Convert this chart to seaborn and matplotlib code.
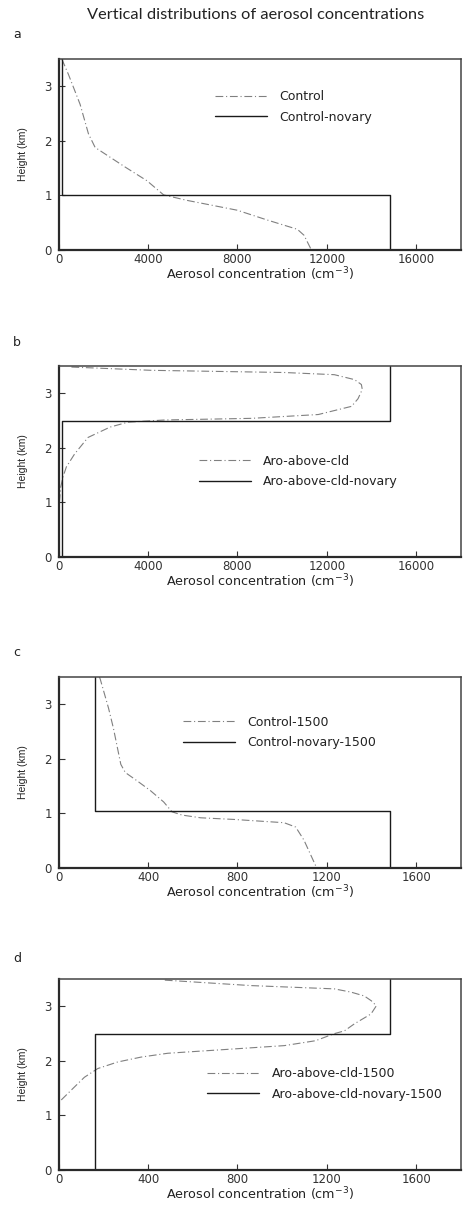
import numpy as np
import pandas as pd
import matplotlib
matplotlib.use("Agg")
import matplotlib.pyplot as plt
import seaborn as sns

sns.set_theme(style="white")
plt.rcParams["font.family"] = ["DejaVu Sans"]

# ---------------- data ----------------
# panel a
ctrl_h = [3.50, 3.22, 2.67, 2.13, 1.88, 1.70, 1.52, 1.27, 1.01, 0.91, 0.73, 0.55, 0.38, 0.27, 0.0]
ctrl_c = [140, 434, 958, 1332, 1631, 2304, 2978, 3950, 4699, 5746, 7991, 9338, 10685, 10984, 11313]
ctrl_nv_h = [3.5, 1.0, 1.0, 0.0]
ctrl_nv_c = [160, 160, 14850, 14850]

# panel b
aro_h = [3.48, 3.42, 3.38, 3.34, 3.25, 3.16, 3.07, 2.90, 2.76, 2.61, 2.54, 2.51, 2.47, 2.38,
         2.19, 1.89, 1.65, 1.47, 1.28, 1.0, 0.5, 0.0]
aro_c = [570, 4150, 10100, 12340, 13240, 13550, 13590, 13400, 13110, 11620, 8630, 4740, 3100, 2300,
         1313, 716, 343, 194, 90, 30, 10, 0]
aro_nv_h = [0.0, 2.5, 2.5, 3.5]
aro_nv_c = [160, 160, 14850, 14850]

# panel c
c15_h = [3.50, 3.46, 2.93, 2.56, 1.90, 1.75, 1.60, 1.42, 1.21, 1.03, 0.97, 0.92, 0.89, 0.83, 0.75, 0.51, 0.0]
c15_c = [182, 186, 223, 245, 278, 298, 350, 410, 470, 507, 552, 635, 784, 1009, 1061, 1098, 1155]
c15_nv_h = [3.5, 1.04, 1.04, 0.0]
c15_nv_c = [163, 163, 1481, 1481]

# panel d
a15_h = [3.48, 3.38, 3.32, 3.26, 3.19, 3.10, 3.01, 2.86, 2.68, 2.55, 2.50, 2.37, 2.28, 2.22,
         2.14, 2.07, 1.98, 1.86, 1.70, 1.46, 1.25, 1.0, 0.5, 0.0]
a15_c = [475, 861, 1234, 1309, 1368, 1400, 1422, 1398, 1324, 1279, 1234, 1150, 1010, 787,
         488, 369, 264, 175, 115, 55, 3, 0, 0, 0]
a15_nv_h = [0.0, 2.5, 2.5, 3.5]
a15_nv_c = [161, 161, 1484, 1484]

big_ticks = [0, 4000, 8000, 12000, 16000]
small_ticks = [0, 400, 800, 1200, 1600]
y_ticks = [0, 1, 2, 3]

panels = [
    dict(tag="a", c=ctrl_c, h=ctrl_h, nc=ctrl_nv_c, nh=ctrl_nv_h, lab1="Control", lab2="Control-novary",
         xt=big_ticks, xmax=18000, bottom=0.7942, leg=(0.389, 0.749), tagy=35),
    dict(tag="b", c=aro_c, h=aro_h, nc=aro_nv_c, nh=aro_nv_h, lab1="Aro-above-cld", lab2="Aro-above-cld-novary",
         xt=big_ticks, xmax=18000, bottom=0.5416, leg=(0.349, 0.447), tagy=342),
    dict(tag="c", c=c15_c, h=c15_h, nc=c15_nv_c, nh=c15_nv_h, lab1="Control-1500", lab2="Control-novary-1500",
         xt=small_ticks, xmax=1800, bottom=0.2856, leg=(0.309, 0.710), tagy=652),
    dict(tag="d", c=a15_c, h=a15_h, nc=a15_nv_c, nh=a15_nv_h, lab1="Aro-above-cld-1500",
         lab2="Aro-above-cld-novary-1500",
         xt=small_ticks, xmax=1800, bottom=0.037, leg=(0.37, 0.45), tagy=958),
]

W, H = 467, 1215
fig = plt.figure(figsize=(W / 100, H / 100), dpi=100)
fig.patch.set_facecolor("white")

fig.text(0.548, 1 - 15 / H, "Vertical distributions of aerosol concentrations",
         ha="center", va="center", fontsize=11.8, family=["Lato", "DejaVu Sans"], color="#222222")

for p in panels:
    ax = fig.add_axes([0.1257, p["bottom"], 0.861, 0.1572])
    df1 = pd.DataFrame({"conc": p["c"], "h": p["h"]})
    df2 = pd.DataFrame({"conc": p["nc"], "h": p["nh"]})
    sns.lineplot(data=df1, x="conc", y="h", sort=False, estimator=None, ax=ax,
                 color="#808080", lw=0.8, linestyle=(0, (7, 2.5, 1, 2.5)), label=p["lab1"])
    sns.lineplot(data=df2, x="conc", y="h", sort=False, estimator=None, ax=ax,
                 color="#1a1a1a", lw=1.0, label=p["lab2"])
    ax.set_xlim(0, p["xmax"])
    ax.set_ylim(0, 3.5)
    ax.set_xticks(p["xt"])
    ax.set_yticks(y_ticks)
    ax.tick_params(direction="in", length=4, width=0.8, colors="#333333",
                   labelsize=8.5, bottom=True, left=True)
    ax.tick_params(axis="x", pad=2)
    ax.tick_params(axis="y", pad=5)
    for s in ["left", "bottom"]:
        ax.spines[s].set_linewidth(1.6)
        ax.spines[s].set_color("#2a2a2a")
    for s in ["top", "right"]:
        ax.spines[s].set_linewidth(1.1)
        ax.spines[s].set_color("#444444")
    ax.set_xlabel("Aerosol concentration (cm$^{-3}$)", fontsize=9.2, color="#222222", labelpad=0)
    ax.set_ylabel("Height (km)", fontsize=7.5, color="#222222", labelpad=12,
                  family=["Liberation Sans Narrow", "Liberation Sans"])
    ax.legend(frameon=False, loc="center left", bbox_to_anchor=p["leg"], fontsize=9,
              handlelength=4.16, handletextpad=0.96, labelspacing=0.6, borderpad=0,
              borderaxespad=0, labelcolor="#222222")
    fig.text(17 / W, 1 - p["tagy"] / H, p["tag"], ha="center", va="center", fontsize=9, color="#222222")

fig.savefig("out.png", dpi=100, facecolor="white")
